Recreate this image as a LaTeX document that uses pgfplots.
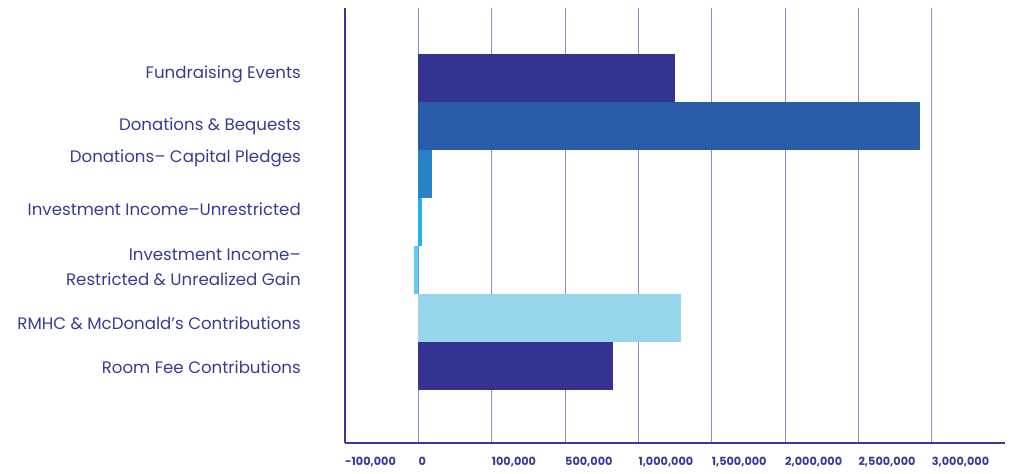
\documentclass[border=0pt]{standalone}
\usepackage{pgfplots}
\pgfplotsset{compat=1.18}
\usepackage{fontspec}
\setmainfont{Poppins}
\definecolor{ink}{HTML}{3A3A96}
\definecolor{gridc}{HTML}{8E8BC9}
\definecolor{cA}{HTML}{333391}
\definecolor{cB}{HTML}{2A5CA8}
\definecolor{cC}{HTML}{2683C6}
\definecolor{cD}{HTML}{25B0E6}
\definecolor{cE}{HTML}{5ECDF5}
\definecolor{cF}{HTML}{96D6EC}
\begin{document}
\begin{tikzpicture}
\path[use as bounding box] (-345bp,-31bp) rectangle (667bp,443bp);
\begin{axis}[
  at={(0,0)}, anchor=south west,
  scale only axis, width=660bp, height=435bp,
  xmin=-1, xmax=8, ymin=8, ymax=443, y dir=reverse,
  axis lines=left, axis line style={ink, line width=2.2bp, -},
  xbar, bar width=48, bar shift=0pt,
  xtick={-1,0,1,2,3,4,5,6,7},
  xticklabels={-100{,}000, 0, 100{,}000, 500{,}000, 1{,}000{,}000, 1{,}500{,}000, 2{,}000{,}000, 2{,}500{,}000, 3{,}000{,}000},
  xticklabel style={anchor=north west, inner sep=0pt, yshift=-14bp, text=ink, font=\fontsize{11.3}{12}\selectfont\bfseries},
  major tick length=0pt,
  xmajorgrids, grid style={gridc, line width=0.9bp},
  ytick={74,126,158,209,267.5,323,367},
  yticklabels={Fundraising Events, Donations \& Bequests, Donations– Capital Pledges, Investment Income–Unrestricted, {Investment Income–\\Restricted \& Unrealized Gain}, RMHC \& McDonald’s Contributions, Room Fee Contributions},
  yticklabel style={anchor=east, align=right, inner sep=0pt, xshift=-44bp, text=ink, font=\fontsize{16.7}{25}\selectfont},
  clip=false,
]
\addplot[fill=cA, draw=none] coordinates {(3.50,78)};
\addplot[fill=cB, draw=none] coordinates {(6.84,126)};
\addplot[fill=cC, draw=none] coordinates {(0.19,174)};
\addplot[fill=cD, draw=none] coordinates {(0.055,222)};
\addplot[fill=cE, draw=none] coordinates {(-0.055,270)};
\addplot[fill=cF, draw=none] coordinates {(3.58,318)};
\addplot[fill=cA, draw=none] coordinates {(2.66,366)};
\end{axis}
\end{tikzpicture}
\end{document}
